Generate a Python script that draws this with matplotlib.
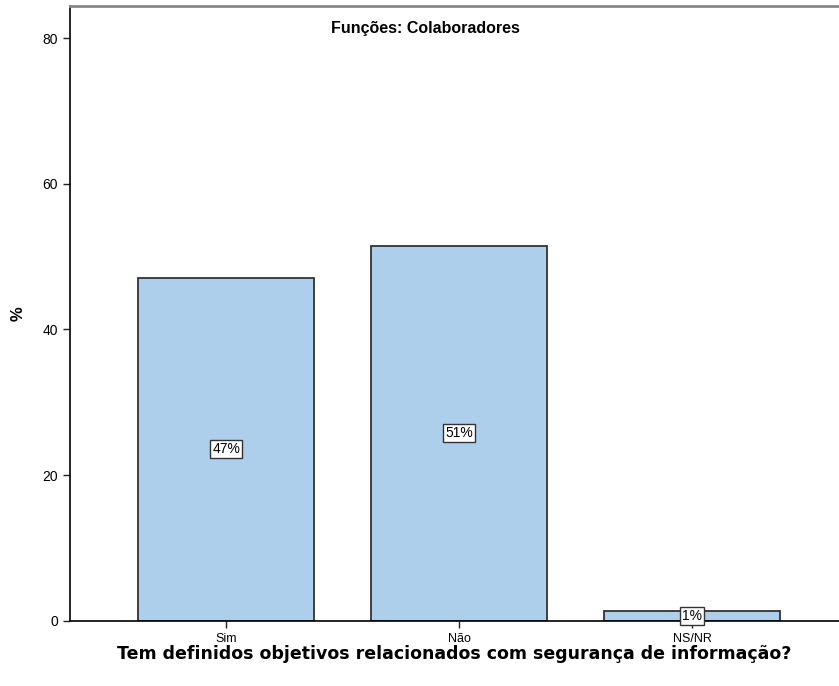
import numpy as np
import matplotlib.pyplot as plt

# data
categories = ["Sim", "Não", "NS/NR"]
values = [47.1, 51.5, 1.4]
labels = ["47%", "51%", "1%"]
yticks = [0, 20, 40, 60, 80]

plt.rcParams['font.family'] = ['Liberation Sans', 'DejaVu Sans']

fig = plt.figure(figsize=(8.39, 6.86), dpi=100)
ax = fig.add_axes([0.0834, 0.0948, 0.9166, 0.8965])

x = np.arange(len(categories))
ax.bar(x, values, width=0.755, color="#AECFEB", edgecolor="#333333", linewidth=1.3)

for xi, v, lab in zip(x, values, labels):
    ax.text(xi, v / 2, lab, ha="center", va="center", fontsize=10,
            bbox=dict(boxstyle="square,pad=0.15", fc="white", ec="#333333", lw=1))

ax.set_xlim(-0.67, 2.63)
ax.set_ylim(0, 84.4)
ax.set_xticks(x)
ax.set_xticklabels(categories, fontsize=9)
ax.set_yticks(yticks)
ax.set_yticklabels([str(t) for t in yticks], fontsize=10)
ax.tick_params(direction="out", length=5, width=1, color="#222222")

ax.spines["right"].set_visible(False)
ax.spines["top"].set_color("#888888")
ax.spines["top"].set_linewidth(2)
ax.spines["left"].set_linewidth(1.2)
ax.spines["bottom"].set_linewidth(1.2)

ax.set_ylabel("%", fontsize=12, fontweight="bold", labelpad=12)
ax.set_xlabel("Tem definidos objetivos relacionados com segurança de informação?",
              fontsize=12.5, fontweight="bold", labelpad=0.5, family="DejaVu Sans")
ax.text(0.462, 0.964, "Funções: Colaboradores", transform=ax.transAxes,
        ha="center", va="center", fontsize=11.5, fontweight="bold")

fig.savefig("out.png", dpi=100)
